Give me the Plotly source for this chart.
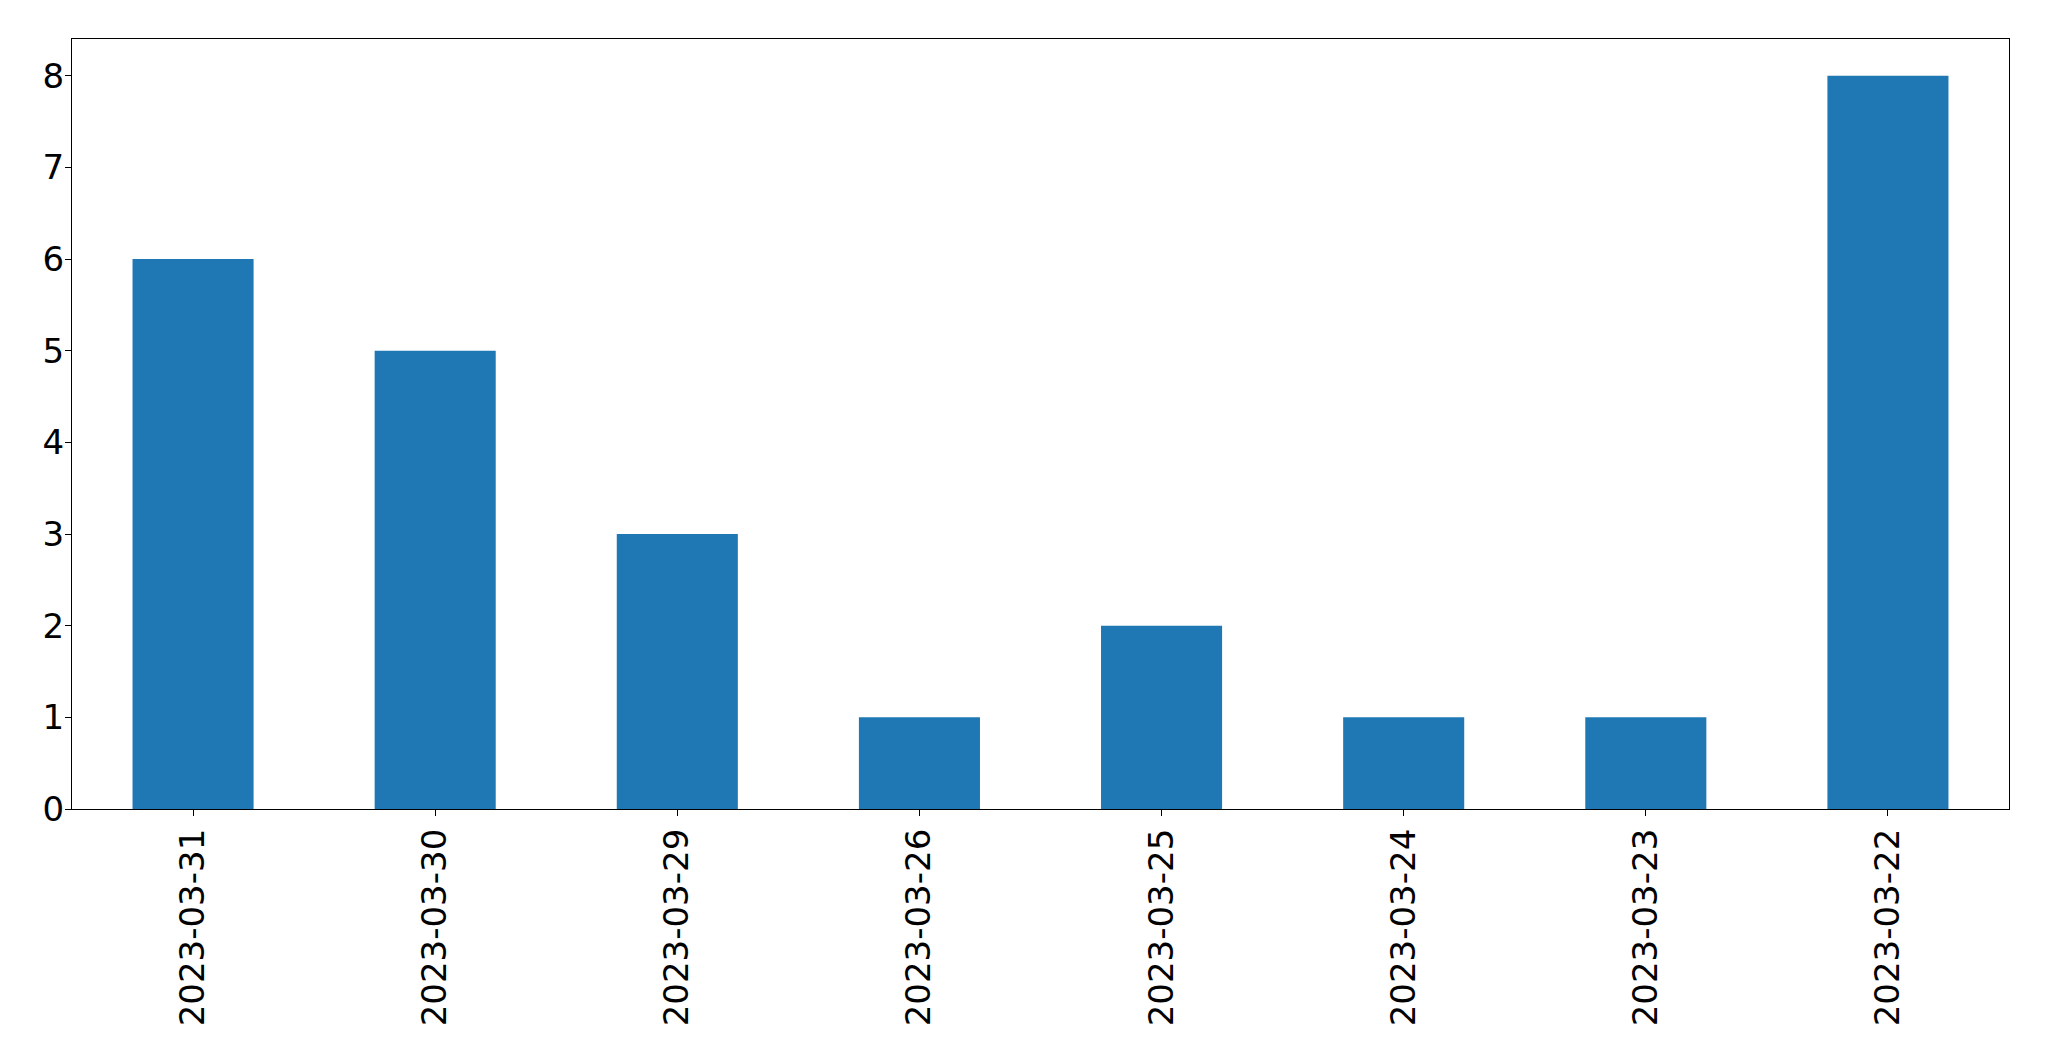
import plotly.graph_objects as go

dates = ["2023-03-31", "2023-03-30", "2023-03-29", "2023-03-26",
         "2023-03-25", "2023-03-24", "2023-03-23", "2023-03-22"]
counts = [6, 5, 3, 1, 2, 1, 1, 8]
y_ticks = [0, 1, 2, 3, 4, 5, 6, 7, 8]

fig = go.Figure(go.Bar(x=dates, y=counts, marker=dict(color="#1f77b4", line=dict(width=0)), width=0.5))

# page body has an 8px default margin, so the figure is offset by 8px
fig.update_layout(
    width=2041, height=1053,
    margin=dict(l=64, r=40, t=31, b=252),
    paper_bgcolor="white", plot_bgcolor="white",
    font=dict(family="DejaVu Sans", size=34, color="black"),
    showlegend=False,
)
fig.update_xaxes(
    type="category", range=[-0.5, 7.5], tickangle=-90, automargin=False,
    showline=True, linecolor="black", linewidth=1.3, mirror=True,
    ticks="outside", ticklen=6, tickcolor="black", tickwidth=1.3,
    showgrid=False, zeroline=False, ticklabelstandoff=-1,
)
fig.update_yaxes(
    range=[0, 8.4], tickvals=y_ticks, automargin=False,
    showline=True, linecolor="black", linewidth=1.3, mirror=True,
    ticks="outside", ticklen=6, tickcolor="black", tickwidth=1.3,
    showgrid=False, zeroline=False, ticklabelstandoff=-6,
)

fig.write_html("out.html")
